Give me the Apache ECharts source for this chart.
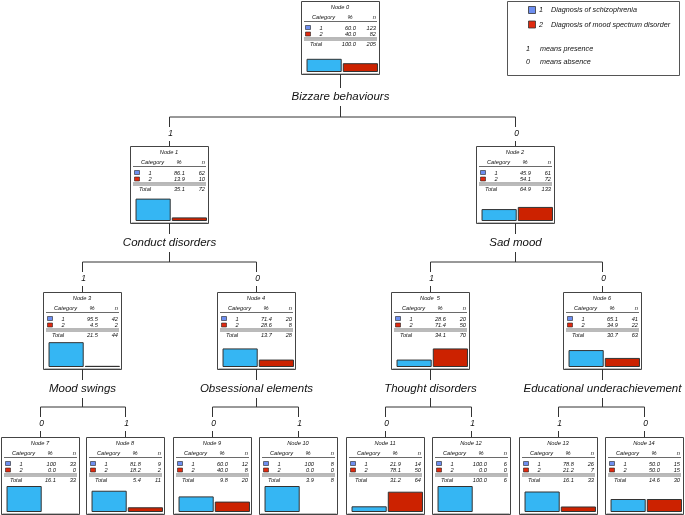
<!DOCTYPE html>
<html>
<head>
<meta charset="utf-8">
<script src="https://cdn.jsdelivr.net/npm/echarts@6/dist/echarts.min.js"></script>
<style>html,body{margin:0;padding:0;background:#fff}#c{width:685px;height:515px}</style>
</head>
<body>
<div id="c"></div>
<script>
// ---------------- DATA ----------------
const nodeNames = ['Node 0','Node 1','Node 2','Node 3','Node 4','Node  5','Node 6','Node 7','Node 8','Node 9','Node 10','Node 11','Node 12','Node 13','Node 14'];
const categories = ['1', '2'];
const pct1 = ['60.0','86.1','45.9','95.5','71.4','28.6','65.1','100','81.8','60.0','100','21.9','100.0','78.8','50.0'];
const n1 = [123, 62, 61, 42, 20, 20, 41, 33, 9, 12, 8, 14, 6, 26, 15];
const pct2 = ['40.0','13.9','54.1','4.5','28.6','71.4','34.9','0.0','18.2','40.0','0.0','78.1','0.0','21.2','50.0'];
const n2 = [82, 10, 72, 2, 8, 50, 22, 0, 2, 8, 0, 50, 0, 7, 15];
const totalPct = ['100.0','35.1','64.9','21.5','13.7','34.1','30.7','16.1','5.4','9.8','3.9','31.2','100.0','16.1','14.6'];
const totalN = [205, 72, 133, 44, 28, 70, 63, 33, 11, 20, 8, 64, 6, 33, 30];
const splitVars = ['Bizzare behaviours','Conduct disorders','Sad mood','Mood swings','Obsessional elements','Thought disorders','Educational underachievement'];
const children = [[1,2],[3,4],[5,6],[7,8],[9,10],[11,12],[13,14]];
const branchLabels = ['', '1','0','1','0','1','0','0','1','0','1','0','1','1','0'];
const legendCats = ['Diagnosis of schizophrenia','Diagnosis of mood spectrum disorder'];
const legendNotes = [['1','means presence'],['0','means absence']];

// ---------------- LAYOUT ----------------
const nodeLeft = [301, 130, 476, 43, 217, 391, 563, 1, 86, 173, 259, 346, 432, 519, 605];
const nodeLevel = [0,1,1,2,2,2,2,3,3,3,3,3,3,3,3];
const levelTop = [1, 146, 292, 437];
const levelH = [73, 77, 77, 77];
const splitLabelY = [97, 243, 389];
const hLineY = [117, 262, 407];
const branchY = [134, 279, 424];
const BOXW = 78;
const BLUE = '#35b6f3', RED = '#cc2200', SQBLUE = '#6d8ef0', SQRED = '#e02a10';
const FF = '"Liberation Sans", Arial, Helvetica, sans-serif';

const graphics = [];
function txt(x, y, s, size, align) {
  graphics.push({type:'text', x:x, y:y, silent:true, z:5,
    style:{text:s, x:0, y:0, font:'italic ' + size + 'px ' + FF, fill:'#111',
      align:align||'center', verticalAlign:'middle', textAlign:align||'center', textVerticalAlign:'middle'}});
}
function line(x1,y1,x2,y2,color,w) {
  graphics.push({type:'line', silent:true, z:4, shape:{x1:x1,y1:y1,x2:x2,y2:y2},
    style:{stroke:color||'#333', lineWidth:w||1}});
}
function rect(x,y,w,h,fill,stroke,lw) {
  graphics.push({type:'rect', silent:true, z:1, shape:{x:x,y:y,width:w,height:h},
    style:{fill:fill, stroke:stroke, lineWidth:lw||1}});
}

const grids = [], xAxes = [], yAxes = [], series = [];
nodeNames.forEach(function(name, i) {
  const L = nodeLevel[i];
  const x0 = nodeLeft[i], y0 = levelTop[L], H = levelH[L];
  rect(x0 + 0.5, y0 + 0.5, BOXW, H, '#fff', '#444', 1);
  line(x0 + 1.5, y0 + H - 0.5, x0 + BOXW - 0.5, y0 + H - 0.5, '#bbb', 1);
  txt(x0 + BOXW/2, y0 + 6, name, 5.7);
  txt(x0 + 11, y0 + 16, 'Category', 5.7, 'left');
  txt(x0 + 49, y0 + 16, '%', 5.7);
  txt(x0 + 75, y0 + 16, 'n', 5.7, 'right');
  line(x0 + 3, y0 + 20.5, x0 + 76, y0 + 20.5, '#444', 0.8);
  [[pct1, n1, SQBLUE, 27], [pct2, n2, SQRED, 33.5]].forEach(function(r, k) {
    const yy = y0 + r[3];
    graphics.push({type:'rect', silent:true, z:5, shape:{x:x0+4.5, y:yy-2.5, width:5, height:4},
      style:{fill:r[2], stroke:'#222', lineWidth:0.6}});
    txt(x0 + 20, yy, categories[k], 5.7);
    txt(x0 + 55, yy, r[0][i], 5.7, 'right');
    txt(x0 + 75, yy, String(r[1][i]), 5.7, 'right');
  });
  line(x0 + 3, y0 + 37, x0 + 76, y0 + 37, '#333', 0.7);
  line(x0 + 3, y0 + 39, x0 + 76, y0 + 39, '#777', 1);
  txt(x0 + 9, y0 + 43, 'Total', 5.7, 'left');
  txt(x0 + 55, y0 + 43, totalPct[i], 5.7, 'right');
  txt(x0 + 75, y0 + 43, String(totalN[i]), 5.7, 'right');

  grids.push({left: x0 + 5, top: y0 + 49, width: 72.5, height: H - 51, containLabel:false});
  xAxes.push({type:'category', gridIndex:i, data:categories, boundaryGap:true,
    axisLine:{show:true, lineStyle:{color:'#aaa', width:1}}, axisTick:{show:false}, axisLabel:{show:false}, splitLine:{show:false}});
  yAxes.push({type:'value', gridIndex:i, min:0, max:100,
    axisLine:{show:true, lineStyle:{color:'#666', width:1}}, axisTick:{show:false}, axisLabel:{show:false}, splitLine:{show:false}});
  const v1 = Number(pct1[i]), v2 = Number(pct2[i]);
  series.push({type:'bar', xAxisIndex:i, yAxisIndex:i, barCategoryGap:'3%', silent:true, animation:false,
    itemStyle:{borderColor:'#333', borderWidth:1},
    data:[ v1 > 0 ? {value:v1, itemStyle:{color:BLUE}} : '-', v2 > 0 ? {value:v2, itemStyle:{color:RED}} : '-' ]});
});

// connectors
children.forEach(function(ch, p) {
  const L = nodeLevel[p];
  const cx = nodeLeft[p] + BOXW/2 + 0.5;
  const yb = levelTop[L] + levelH[L];
  line(cx, yb, cx, splitLabelY[L] - 9);
  txt(cx, splitLabelY[L], splitVars[p], 11.5);
  line(cx, splitLabelY[L] + 9, cx, hLineY[L]);
  const c0 = nodeLeft[ch[0]] + BOXW/2 + 0.5, c1 = nodeLeft[ch[1]] + BOXW/2 + 0.5;
  line(c0, hLineY[L], c1, hLineY[L]);
  ch.forEach(function(c) {
    const x = nodeLeft[c] + BOXW/2 + 0.5;
    line(x, hLineY[L], x, branchY[L] - 7);
    txt(x + 1, branchY[L], branchLabels[c], 8.5);
    line(x, branchY[L] + 7, x, levelTop[L + 1]);
  });
});

// legend
rect(507.5, 1.5, 172, 74, '#fff', '#555', 1);
[SQBLUE, SQRED].forEach(function(col, k) {
  const yy = 10 + k * 14.5;
  graphics.push({type:'rect', silent:true, z:5, shape:{x:528.5, y:yy-3.5, width:7, height:7},
    style:{fill:col, stroke:'#333', lineWidth:0.8}});
  txt(541, yy, categories[k], 7.2, 'center');
  txt(551, yy, legendCats[k], 7.2, 'left');
});
legendNotes.forEach(function(nt, k) {
  const yy = 48.5 + k * 13.5;
  txt(528, yy, nt[0], 7.2, 'center');
  txt(540, yy, nt[1], 7.2, 'left');
});

const chart = echarts.init(document.getElementById('c'), null, {renderer:'canvas'});
chart.setOption({
  backgroundColor:'#fff',
  animation:false,
  grid:grids, xAxis:xAxes, yAxis:yAxes, series:series,
  graphic:{elements:graphics}
});
</script>
</body>
</html>
